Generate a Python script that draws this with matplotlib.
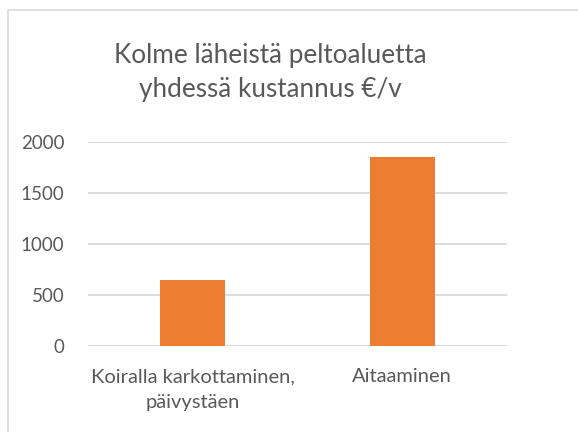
import matplotlib.pyplot as plt
from matplotlib.patches import Rectangle

plt.rcParams['font.family'] = ['Lato', 'DejaVu Sans']

#----data
categories = ["Koiralla karkottaminen,\npäivystäen", "Aitaaminen"]
costs = [650, 1850]
yticks = [0, 500, 1000, 1500, 2000]
title = "Kolme läheistä peltoaluetta\nyhdessä kustannus €/v"
#----

txt = "#595959"
fig = plt.figure(figsize=(5.78, 4.32), dpi=100)
ax = fig.add_axes([88/578, 1-346/432, (507-88)/578, (346-142)/432])

x = range(len(categories))
ax.bar(x, costs, width=0.31, color="#ED7D31", zorder=3)
ax.set_xlim(-0.5, 1.5)
ax.set_ylim(0, 2000)
ax.set_yticks(yticks)
ax.set_yticklabels([str(v) for v in yticks])
ax.set_xticks(list(x))
ax.set_xticklabels(categories, linespacing=1.6)
ax.grid(axis="y", color="#D9D9D9", linewidth=1.3, zorder=0)
for s in ax.spines.values():
    s.set_visible(False)
ax.tick_params(axis="both", length=0, colors=txt)
ax.tick_params(axis="y", pad=17, labelsize=13.5)
ax.tick_params(axis="x", pad=16, labelsize=14.5)

fig.text(270/578, 1-72/432, title, ha="center", va="center",
         fontsize=18.8, color=txt, linespacing=1.45)

#----chart border
fig.patches.append(Rectangle((8/578, -0.1), 1.2, 1-10/432+0.1, transform=fig.transFigure,
                             fill=False, edgecolor="#D9D9D9", linewidth=1.2))

fig.savefig("out.png", dpi=100)
